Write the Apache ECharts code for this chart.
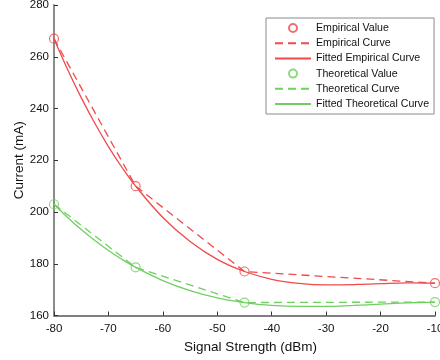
<!DOCTYPE html>
<html>
<head>
<meta charset="utf-8">
<script src="https://cdn.jsdelivr.net/npm/echarts@6/dist/echarts.min.js"></script>
<style>
  html, body { margin: 0; padding: 0; background: #fff; }
  #chart { width: 440px; height: 360px; }
</style>
</head>
<body>
<div id="chart"></div>
<script>
// Measured operating points (signal strength in dBm)
const signal = [-80, -65, -45, -10];
const empiricalValue = [267, 210, 177, 172.5];
const theoreticalValue = [203, 178.6, 165, 165.2];

// Fitted curves sampled along the signal range
const fitSignal = [-80, -77.5, -75, -72.5, -70, -67.5, -65, -60, -55, -50, -45, -40, -35, -30, -25, -20, -15, -10];
const fittedEmpirical = [267, 255.1, 244.2, 234.3, 225.3, 217.2, 210, 197.9, 188.6, 181.7, 177, 174.0, 172.4, 171.8, 171.9, 172.3, 172.6, 172.5];
const fittedTheoretical = [203, 197.9, 193.2, 189.0, 185.1, 181.7, 178.6, 173.5, 169.6, 166.8, 165, 163.9, 163.5, 163.5, 163.9, 164.4, 164.9, 165.2];

// Axis ranges and ticks
const xTicks = { min: -80, max: -10, step: 10 };
const yTicks = { min: 160, max: 280, step: 20 };

const RED = '#f04a4a';
const GREEN = '#6fd060';
const FONT = '"Liberation Sans", Arial, Helvetica, sans-serif';

const pairs = (xs, ys) => xs.map((x, i) => [x, ys[i]]);

const pointSeries = (name, values, color) => ({
  name, type: 'scatter', data: pairs(signal, values),
  symbol: 'circle', symbolSize: 9,
  itemStyle: { color: 'rgba(255,255,255,0)', borderColor: color, borderWidth: 1.2 },
  z: 5
});
// line series carry no point symbols, so their item style stays invisible
// (this also keeps the legend key a plain line)
const dashedSeries = (name, values, color) => ({
  name, type: 'line', data: pairs(signal, values),
  symbol: 'none', smooth: false,
  lineStyle: { color, width: 1.3, type: [8, 5] },
  itemStyle: { color, opacity: 0 }
});
const fittedSeries = (name, values, color) => ({
  name, type: 'line', data: pairs(fitSignal, values),
  symbol: 'none', smooth: 0.4,
  lineStyle: { color, width: 1.3, type: 'solid' },
  itemStyle: { color, opacity: 0 }
});

const axisCommon = {
  axisLine: { show: true, lineStyle: { color: '#7f7f7f', width: 1.8 } },
  axisTick: { show: true, inside: true, length: 4, lineStyle: { color: '#333', width: 1 } },
  splitLine: { show: false },
  axisLabel: { color: '#111', fontFamily: FONT, fontSize: 11.5 },
  nameTextStyle: { color: '#111', fontFamily: FONT, fontSize: 13.5 },
  nameLocation: 'middle'
};

const chart = echarts.init(document.getElementById('chart'), null, { renderer: 'canvas' });
chart.setOption({
  animation: false,
  backgroundColor: '#fff',
  // fixed plot box; the last x tick label is allowed to run off the right edge
  grid: { left: 54, right: 5, top: 5, bottom: 44.5, containLabel: false, outerBoundsMode: 'none' },
  xAxis: Object.assign({}, axisCommon, {
    type: 'value', min: xTicks.min, max: xTicks.max, interval: xTicks.step,
    name: 'Signal Strength (dBm)', nameGap: 25, nameMoveOverlap: false,
    nameTextStyle: Object.assign({}, axisCommon.nameTextStyle, { padding: [0, 0, 0, 12] }),
    axisLabel: Object.assign({}, axisCommon.axisLabel, { margin: 7, showMaxLabel: true })
  }),
  yAxis: Object.assign({}, axisCommon, {
    type: 'value', min: yTicks.min, max: yTicks.max, interval: yTicks.step,
    name: 'Current (mA)', nameGap: 28, nameRotate: 90, nameMoveOverlap: false,
    axisLabel: Object.assign({}, axisCommon.axisLabel, { margin: 5 })
  }),
  legend: {
    orient: 'vertical', left: 266, top: 18,
    padding: [4, 5, 4, 8],
    itemWidth: 36, itemHeight: 8, itemGap: 3.2,
    backgroundColor: '#fff', borderColor: '#8a8a8a', borderWidth: 1,
    textStyle: { color: '#111', fontFamily: FONT, fontSize: 10.6, lineHeight: 12 },
    data: ['Empirical Value', 'Empirical Curve', 'Fitted Empirical Curve',
           'Theoretical Value', 'Theoretical Curve', 'Fitted Theoretical Curve']
  },
  series: [
    pointSeries('Empirical Value', empiricalValue, RED),
    dashedSeries('Empirical Curve', empiricalValue, RED),
    fittedSeries('Fitted Empirical Curve', fittedEmpirical, RED),
    pointSeries('Theoretical Value', theoreticalValue, GREEN),
    dashedSeries('Theoretical Curve', theoreticalValue, GREEN),
    fittedSeries('Fitted Theoretical Curve', fittedTheoretical, GREEN)
  ]
});
</script>
</body>
</html>
